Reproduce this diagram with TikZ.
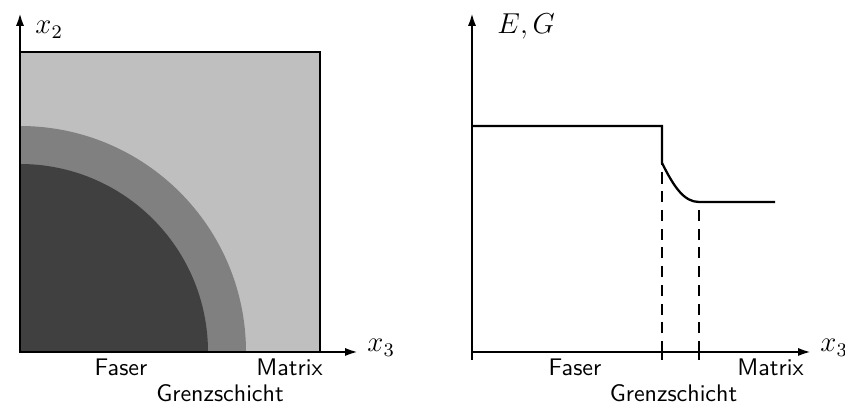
\documentclass[tikz,border=0pt]{standalone}
\usetikzlibrary{arrows.meta}
\definecolor{fibre}{gray}{0.25}
\definecolor{interphase}{gray}{0.5}
\definecolor{matrixgray}{gray}{0.75}
\begin{document}
\begin{tikzpicture}[x=0.4167pt,y=0.4167pt,
  axis/.style={line width=0.95pt,-{Latex[length=5.4pt,width=3.4pt]}},
  curve/.style={line width=0.95pt},
  guide/.style={line width=0.95pt,dash pattern=on 4.6pt off 3.2pt},
  lbl/.style={font=\sffamily,anchor=base,inner sep=0pt},
  axlbl/.style={font=\large,anchor=base west,inner sep=0pt}]
\useasboundingbox (0,0) rectangle (845,405);

% ---- left: cross-section of fibre, interphase and matrix ----
\coordinate (O1) at (20,53);
\coordinate (Y1) at (20,392);
\coordinate (X1) at (358,53);
\coordinate (S1) at (320,353);
\fill[matrixgray] (O1) rectangle (S1);
\fill[interphase] (O1) -- ++(226,0) arc[start angle=0,end angle=90,radius=94.17pt] -- cycle;
\fill[fibre] (O1) -- ++(188,0) arc[start angle=0,end angle=90,radius=78.33pt] -- cycle;
\draw[line width=0.95pt] (O1) rectangle (S1);
\draw[axis] (O1) -- (Y1);
\draw[axis] (O1) -- (X1);
\node[axlbl] (x2) at (35,371) {$x_2$};
\node[axlbl] (x3a) at (367,53) {$x_3$};
\node[lbl] (fa) at (121,29.3) {Faser};
\node[lbl] (ma) at (289.5,29.3) {Matrix};
\node[lbl] (ga) at (220,3.3) {Grenzschicht};

% ---- right: stiffness across the section ----
\coordinate (O2) at (472,53);
\coordinate (B2) at (472,45);
\coordinate (Y2) at (472,392);
\coordinate (X2) at (811,53);
\coordinate (t1b) at (662,45);
\coordinate (t1) at (662,53);
\coordinate (t2b) at (699,45);
\coordinate (t2) at (699,53);
\coordinate (p0) at (472,279);
\coordinate (p1) at (662,279);
\coordinate (p2) at (662,242);
\coordinate (p3) at (699,203);
\coordinate (p4) at (775,203);
\draw[axis] (B2) -- (Y2);
\draw[axis] (O2) -- (X2);
\draw[line width=0.95pt] (t1b) -- (t1);
\draw[line width=0.95pt] (t2b) -- (t2);
\draw[guide] (t1) -- (p2);
\draw[guide] (t2) -- (p3);
\draw[curve] (p0) -- (p1) -- (p2) .. controls (674,218) and (684,203) .. (p3) -- (p4);
\node[axlbl] (EG) at (497,371) {$E,G$};
\node[axlbl] (x3b) at (820,53) {$x_3$};
\node[lbl] (fb) at (575,29.3) {Faser};
\node[lbl] (mb) at (770.5,29.3) {Matrix};
\node[lbl] (gb) at (673.5,3.3) {Grenzschicht};
\end{tikzpicture}
\end{document}
